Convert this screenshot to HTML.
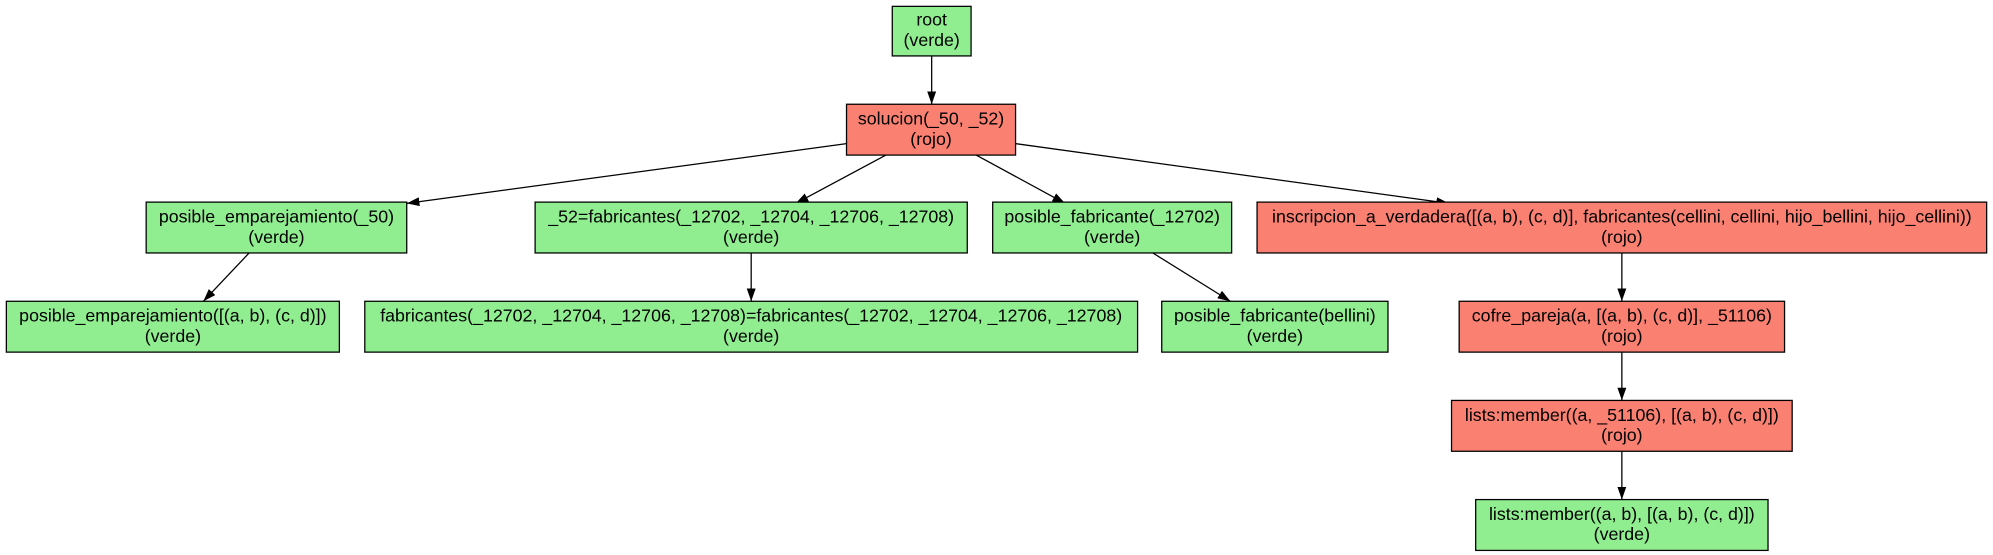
<!DOCTYPE html>
<html><head><meta charset="utf-8"><style>html,body{margin:0;padding:0;background:#fff;}svg{display:block}</style></head>
<body>
<svg xmlns="http://www.w3.org/2000/svg" width="1993" height="555" viewBox="0 0 1568 436.6" preserveAspectRatio="none">
<defs><marker id="a" markerWidth="10" markerHeight="7" refX="10" refY="3.5" orient="auto" markerUnits="userSpaceOnUse"><path d="M0,0 L10,3.5 L0,7 z" fill="#000"/></marker></defs>
<g stroke="#000" stroke-width="1" fill="none" marker-end="url(#a)">
<line x1="733" y1="44" x2="733" y2="82"/>
<line x1="666" y1="113" x2="320" y2="160"/>
<line x1="697" y1="122" x2="626" y2="160"/>
<line x1="768" y1="122" x2="838" y2="160"/>
<line x1="799" y1="113" x2="1140" y2="160"/>
<line x1="196" y1="199" x2="160" y2="237"/>
<line x1="591" y1="199" x2="591" y2="237"/>
<line x1="907" y1="199" x2="968" y2="237"/>
<line x1="1276" y1="199" x2="1276" y2="237"/>
<line x1="1276" y1="277" x2="1276" y2="315"/>
<line x1="1276" y1="355" x2="1276" y2="393"/>
</g>
<g stroke="#000" stroke-width="1">
<rect x="702" y="5" width="62" height="39" fill="#90ee90"/>
<rect x="666" y="82" width="133" height="40" fill="#fa8072"/>
<rect x="115" y="159" width="205" height="40" fill="#90ee90"/>
<rect x="421" y="159" width="340" height="40" fill="#90ee90"/>
<rect x="781" y="159" width="188" height="40" fill="#90ee90"/>
<rect x="989" y="159" width="574" height="40" fill="#fa8072"/>
<rect x="5" y="237" width="262" height="40" fill="#90ee90"/>
<rect x="287" y="237" width="608" height="40" fill="#90ee90"/>
<rect x="914" y="237" width="178" height="40" fill="#90ee90"/>
<rect x="1148" y="237" width="256" height="40" fill="#fa8072"/>
<rect x="1142" y="315" width="268" height="40" fill="#fa8072"/>
<rect x="1161" y="393" width="230" height="40" fill="#90ee90"/>
</g>
<g font-family="Liberation Sans, Arial, sans-serif" font-size="14" text-anchor="middle" fill="#000">
<text x="733" y="20">root</text><text x="733" y="36">(verde)</text>
<text x="732.5" y="98">solucion(_50, _52)</text><text x="732.5" y="114">(rojo)</text>
<text x="217.5" y="175">posible_emparejamiento(_50)</text><text x="217.5" y="191">(verde)</text>
<text x="591" y="175">_52=fabricantes(_12702, _12704, _12706, _12708)</text><text x="591" y="191">(verde)</text>
<text x="875" y="175">posible_fabricante(_12702)</text><text x="875" y="191">(verde)</text>
<text x="1276" y="175">inscripcion_a_verdadera([(a, b), (c, d)], fabricantes(cellini, cellini, hijo_bellini, hijo_cellini))</text><text x="1276" y="191">(rojo)</text>
<text x="136" y="253">posible_emparejamiento([(a, b), (c, d)])</text><text x="136" y="269">(verde)</text>
<text x="591" y="253">fabricantes(_12702, _12704, _12706, _12708)=fabricantes(_12702, _12704, _12706, _12708)</text><text x="591" y="269">(verde)</text>
<text x="1003" y="253">posible_fabricante(bellini)</text><text x="1003" y="269">(verde)</text>
<text x="1276" y="253">cofre_pareja(a, [(a, b), (c, d)], _51106)</text><text x="1276" y="269">(rojo)</text>
<text x="1276" y="331">lists:member((a, _51106), [(a, b), (c, d)])</text><text x="1276" y="347">(rojo)</text>
<text x="1276" y="409">lists:member((a, b), [(a, b), (c, d)])</text><text x="1276" y="425">(verde)</text>
</g>
</svg>
</body></html>
